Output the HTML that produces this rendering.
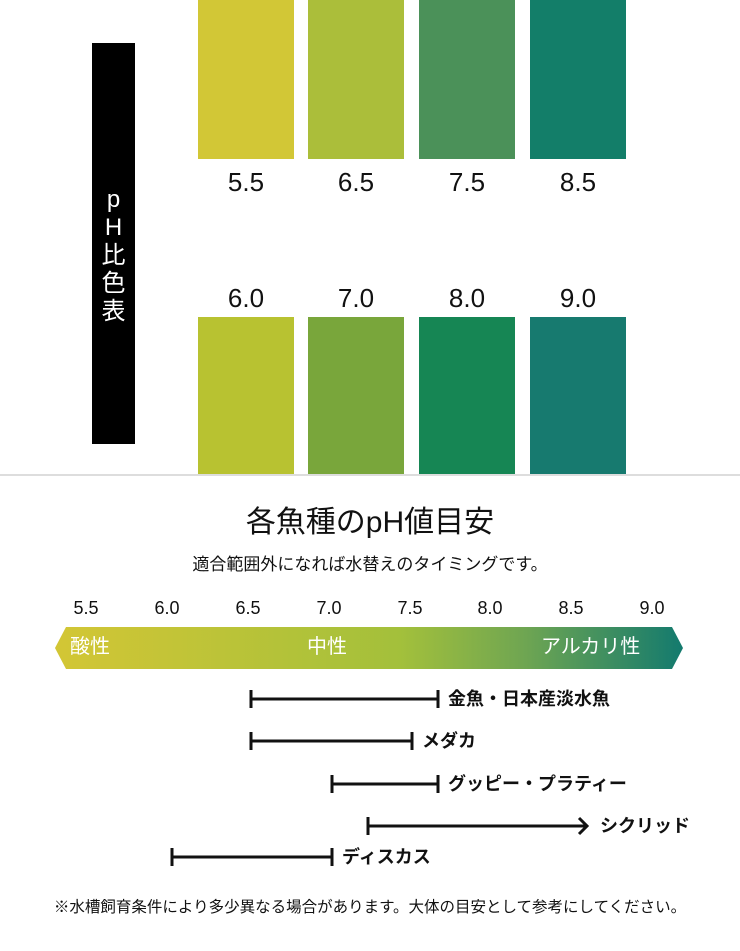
<!DOCTYPE html>
<html><head><meta charset="utf-8"><style>
body{margin:0;width:740px;height:951px;background:#fff;position:relative;overflow:hidden;font-family:"Liberation Sans","Noto Sans CJK JP",sans-serif;color:#111}
.a{position:absolute}
.sw{position:absolute;width:96px}
.lb{position:absolute;width:96px;text-align:center;font-size:26px;line-height:30px}
.tk{position:absolute;width:60px;text-align:center;font-size:18px;line-height:20px}
.fl{position:absolute;font-size:18px;line-height:20px;font-weight:bold;white-space:nowrap}
</style></head><body>
<div class="a" style="left:92px;top:43px;width:43px;height:401px;background:#000"></div>
<div class="a" style="left:92px;top:186px;width:43px;color:#fff;font-size:24px;line-height:28px;text-align:center">p<br>H<br>比<br>色<br>表</div>

<div class="sw" style="left:198px;top:0;height:159px;background:#d2c736"></div>
<div class="sw" style="left:308px;top:0;height:159px;background:#abbe3a"></div>
<div class="sw" style="left:419px;top:0;height:159px;background:#4b9159"></div>
<div class="sw" style="left:530px;top:0;height:159px;background:#137e69"></div>
<div class="lb" style="left:198px;top:167px">5.5</div>
<div class="lb" style="left:308px;top:167px">6.5</div>
<div class="lb" style="left:419px;top:167px">7.5</div>
<div class="lb" style="left:530px;top:167px">8.5</div>
<div class="lb" style="left:198px;top:283px">6.0</div>
<div class="lb" style="left:308px;top:283px">7.0</div>
<div class="lb" style="left:419px;top:283px">8.0</div>
<div class="lb" style="left:530px;top:283px">9.0</div>
<div class="sw" style="left:198px;top:317px;height:158px;background:#b8c231"></div>
<div class="sw" style="left:308px;top:317px;height:158px;background:#79a63b"></div>
<div class="sw" style="left:419px;top:317px;height:158px;background:#168654"></div>
<div class="sw" style="left:530px;top:317px;height:158px;background:#177a6f"></div>
<div class="a" style="left:0;top:474px;width:740px;height:2px;background:#ddd"></div>

<div class="a" style="left:0;top:505px;width:740px;text-align:center;font-size:30px;line-height:36px">各魚種のpH値目安</div>
<div class="a" style="left:0;top:555px;width:740px;text-align:center;font-size:17px;line-height:20px">適合範囲外になれば水替えのタイミングです。</div>

<div class="tk" style="left:56px;top:598px">5.5</div>
<div class="tk" style="left:137px;top:598px">6.0</div>
<div class="tk" style="left:218px;top:598px">6.5</div>
<div class="tk" style="left:299px;top:598px">7.0</div>
<div class="tk" style="left:380px;top:598px">7.5</div>
<div class="tk" style="left:460px;top:598px">8.0</div>
<div class="tk" style="left:541px;top:598px">8.5</div>
<div class="tk" style="left:622px;top:598px">9.0</div>

<svg class="a" style="left:0;top:0" width="740" height="951">
<defs><linearGradient id="g" x1="0" x2="1"><stop offset="0" stop-color="#d3c635"/><stop offset="0.55" stop-color="#a3c03b"/><stop offset="0.75" stop-color="#6ea552"/><stop offset="1" stop-color="#137a6e"/></linearGradient></defs>
<polygon points="66,627 672,627 683,648 672,669 66,669 55,648" fill="url(#g)"/>
<g stroke="#111" stroke-width="3" fill="none">
<path d="M251,699H438M251,690V708M438,690V708"/>
<path d="M251,741H412M251,732V750M412,732V750"/>
<path d="M332,784H438M332,775V793M438,775V793"/>
<path d="M368,826H586M368,817V835M579,818L587,826L579,834"/>
<path d="M172,857H332M172,848V866M332,848V866"/>
</g>
</svg>
<div class="a" style="left:70px;top:635px;color:#fff;font-size:20px;line-height:24px">酸性</div>
<div class="a" style="left:307px;top:635px;color:#fff;font-size:20px;line-height:24px">中性</div>
<div class="a" style="left:541px;top:635px;color:#fff;font-size:20px;line-height:24px">アルカリ性</div>

<div class="fl" style="left:448px;top:689px">金魚・日本産淡水魚</div>
<div class="fl" style="left:422px;top:731px">メダカ</div>
<div class="fl" style="left:448px;top:774px">グッピー・プラティー</div>
<div class="fl" style="left:600px;top:816px">シクリッド</div>
<div class="fl" style="left:342px;top:847px">ディスカス</div>

<div class="a" style="left:0;top:898px;width:740px;text-align:center;font-size:15.5px;line-height:20px">※水槽飼育条件により多少異なる場合があります。大体の目安として参考にしてください。</div>
</body></html>
